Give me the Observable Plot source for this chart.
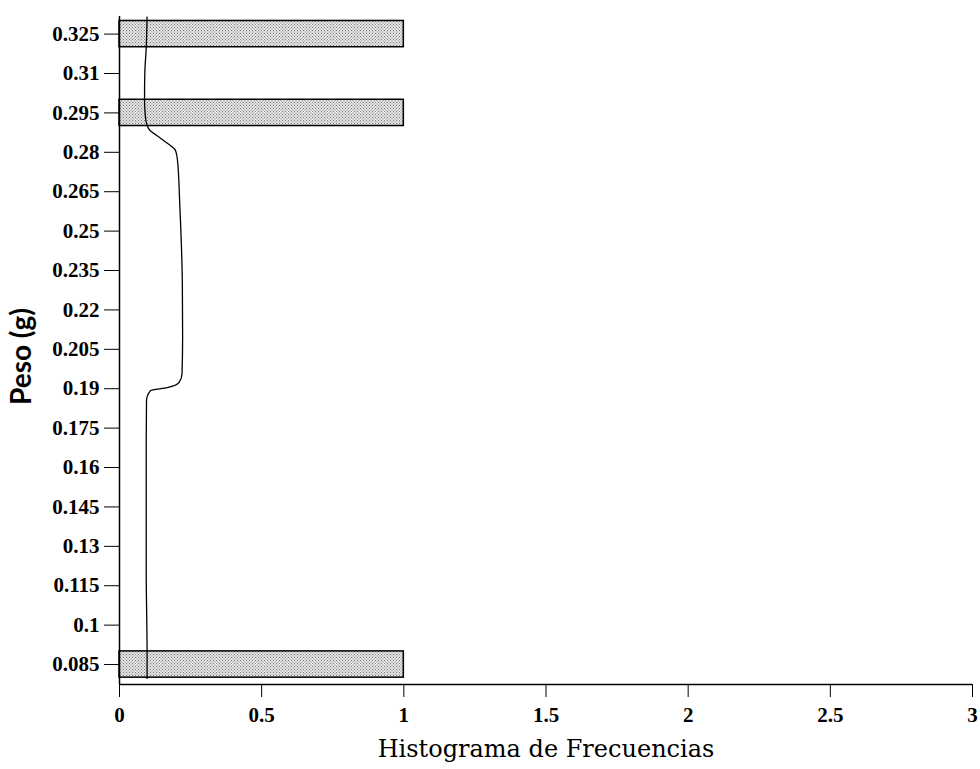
<!DOCTYPE html>
<html>
<head>
<meta charset="utf-8">
<script src="https://cdn.jsdelivr.net/npm/d3@7"></script>
<script src="https://cdn.jsdelivr.net/npm/@observablehq/plot@0.6"></script>
<style>
  html, body { margin: 0; padding: 0; background: #fff; }
  #chart svg { display: block; }
</style>
</head>
<body>
<div id="chart"></div>
<script>
// Histogram bins (Peso in g) and their frequencies
const binStart = [0.08, 0.29, 0.32];
const binEnd   = [0.09, 0.30, 0.33];
const counts   = [1, 1, 1];

// Smoothed density curve: weight (y) and value (x)
const curveY = [0.0797, 0.09, 0.12, 0.17, 0.1855, 0.1893, 0.1904, 0.1924, 0.1958, 0.21, 0.23, 0.26, 0.2769, 0.2807, 0.2825, 0.2845, 0.2865, 0.2883, 0.291, 0.295, 0.30, 0.31, 0.32, 0.3315];
const curveX = [0.097, 0.097, 0.094, 0.094, 0.095, 0.109, 0.168, 0.210, 0.220, 0.222, 0.221, 0.212, 0.204, 0.197, 0.180, 0.155, 0.130, 0.107, 0.095, 0.090, 0.088, 0.089, 0.094, 0.097];

// Tick values
const yTicks = [0.085, 0.1, 0.115, 0.13, 0.145, 0.16, 0.175, 0.19, 0.205, 0.22, 0.235, 0.25, 0.265, 0.28, 0.295, 0.31, 0.325];
const xTicks = [0, 0.5, 1, 1.5, 2, 2.5, 3];

const bins = binStart.map((s, i) => ({y1: s, y2: binEnd[i], n: counts[i]}));
const curve = curveY.map((y, i) => ({y, x: curveX[i]}));

const yMin = 0.0774, yMax = 0.3317;

const plot = Plot.plot({
  width: 980,
  height: 769,
  marginLeft: 119,
  marginRight: 8,
  marginTop: 16,
  marginBottom: 85,
  style: {fontFamily: "'Liberation Serif', serif", fontSize: "21px", fontWeight: "bold", color: "#000", background: "#fff"},
  x: {domain: [0, 3]},
  y: {domain: [yMin, yMax]},
  marks: [
    Plot.rectX(bins, {y1: "y1", y2: "y2", x1: 0, x2: "n", fill: "url(#stipple)", stroke: "#000", strokeWidth: 1.5}),
    Plot.line(curve, {x: "x", y: "y", curve: "monotone-y", stroke: "#000", strokeWidth: 1.3}),
    Plot.ruleX([0], {stroke: "#000", strokeWidth: 1.5}),
    Plot.ruleY([yMin], {stroke: "#000", strokeWidth: 1.5}),
    Plot.axisY({ticks: yTicks, tickSize: 15, tickPadding: 5, tickFormat: d => String(+d.toFixed(3)), label: null, stroke: "#000", fontSize: 21}),
    Plot.axisX({ticks: xTicks, tickSize: 13, tickPadding: 10, tickFormat: d => String(d), label: null, stroke: "#000", fontSize: 21}),
    Plot.text(["Peso (g)"], {frameAnchor: "left", dx: -97, dy: 6, rotate: -90, textAnchor: "middle", lineAnchor: "middle", text: d => d, fontSize: 28, fontFamily: "Lato, 'DejaVu Sans', sans-serif", fontWeight: "bold", fill: "#000"}),
    Plot.text(["Histograma de Frecuencias"], {frameAnchor: "bottom", dy: 65, lineAnchor: "middle", text: d => d, fontSize: 24, fontFamily: "'DejaVu Serif', serif", fontWeight: "normal", fill: "#000"})
  ]
});

// Stippled fill pattern for the bars
const ns = "http://www.w3.org/2000/svg";
const defs = document.createElementNS(ns, "defs");
const pat = document.createElementNS(ns, "pattern");
pat.setAttribute("id", "stipple");
pat.setAttribute("width", "3");
pat.setAttribute("height", "3");
pat.setAttribute("patternUnits", "userSpaceOnUse");
const bg = document.createElementNS(ns, "rect");
bg.setAttribute("width", "3"); bg.setAttribute("height", "3"); bg.setAttribute("fill", "#e6e6e6");
pat.appendChild(bg);
[[0,0],[1.5,1.5]].forEach(([x,y]) => {
  const r = document.createElementNS(ns, "rect");
  r.setAttribute("x", x); r.setAttribute("y", y);
  r.setAttribute("width", "1"); r.setAttribute("height", "1");
  r.setAttribute("fill", "#777");
  pat.appendChild(r);
});
defs.appendChild(pat);
plot.insertBefore(defs, plot.firstChild);

document.getElementById("chart").appendChild(plot);
</script>
</body>
</html>
